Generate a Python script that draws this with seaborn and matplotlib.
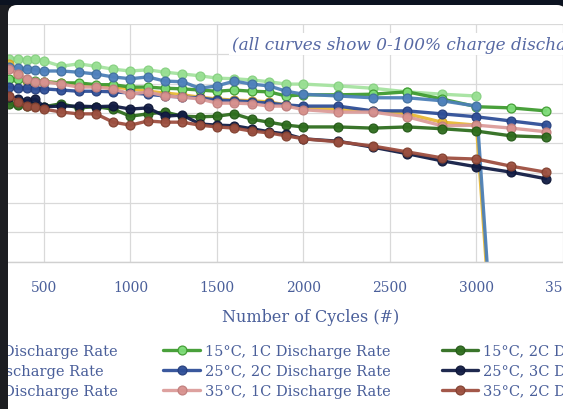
import matplotlib
matplotlib.use("Agg")
import matplotlib.pyplot as plt
import seaborn as sns
import pandas as pd
from matplotlib.patches import Rectangle, FancyBboxPatch
from matplotlib.transforms import Affine2D

# ---------------- data ----------------
cycles = [300, 350, 400, 450, 500, 600, 700, 800, 900, 1000, 1100, 1200, 1300, 1400,
          1500, 1600, 1700, 1800, 1900, 2000, 2200, 2400, 2600, 2800, 3000, 3200, 3400]

s15_05 = [94.1, 94.1, 94.0, 94.1, 93.8, 92.9, 93.3, 92.9, 92.4, 92.1, 92.3, 91.9, 91.6, 91.3,
          90.9, 90.8, 90.6, 90.3, 89.9, 89.9, 89.6, 89.2, 88.6, 88.2, 87.9]
s25_1 = [92.8, 92.6, 92.4, 92.3, 92.1, 92.1, 91.9, 91.6, 91.1, 90.8, 91.1, 90.4, 90.3, 89.2,
         89.6, 90.4, 89.9, 89.6, 88.7, 88.2, 87.9, 87.6, 87.6, 87.1, 86.2, 0.0]
s35_05 = [93.3, 91.6, 90.4, 90.3, 90.3, 90.1, 89.9, 89.6, 89.4, 89.1, 88.7, 88.4, 88.1, 87.7,
          87.4, 87.2, 87.1, 86.9, 86.4, 85.9, 85.7, 85.4, 84.9, 83.5, 83.0, 0.0]
s15_1 = [90.8, 90.8, 90.6, 90.4, 90.3, 90.1, 90.1, 89.8, 89.8, 89.4, 89.4, 89.2, 89.1, 88.9,
         88.7, 88.9, 88.7, 88.6, 87.9, 88.1, 88.1, 88.2, 88.6, 87.4, 86.1, 85.9, 85.4]
s25_2 = [89.4, 89.2, 89.2, 89.1, 89.1, 88.9, 88.7, 88.7, 88.6, 88.4, 88.2, 87.9, 87.7, 87.6,
         87.2, 87.1, 86.9, 86.7, 86.4, 86.2, 86.2, 85.4, 85.4, 84.9, 84.4, 83.7, 83.0]
s35_1 = [92.4, 91.6, 90.8, 90.3, 90.3, 89.9, 89.4, 89.4, 89.1, 88.2, 88.6, 87.9, 87.7, 87.4,
         86.7, 86.7, 86.6, 86.2, 86.2, 85.6, 85.2, 85.2, 84.4, 82.9, 83.0, 82.5, 81.9]
s15_2 = [86.6, 86.4, 86.2, 86.2, 86.1, 86.6, 85.9, 86.1, 85.7, 84.5, 84.9, 85.2, 84.5, 84.4,
         84.5, 84.9, 84.0, 83.5, 83.0, 82.7, 82.7, 82.5, 82.7, 82.4, 82.0, 81.2, 81.0]
s25_3 = [87.7, 87.4, 87.1, 87.4, 86.1, 86.2, 86.2, 86.1, 86.2, 85.7, 85.9, 84.5, 84.7, 83.2,
         83.0, 82.9, 82.4, 81.9, 81.5, 80.7, 80.3, 79.3, 78.2, 77.0, 76.0, 75.1, 74.0]
s35_2 = [87.9, 86.9, 86.2, 86.1, 85.7, 85.2, 84.9, 84.9, 83.5, 83.0, 83.7, 83.5, 83.5, 83.0,
         82.7, 82.5, 82.0, 81.7, 81.2, 80.7, 80.2, 79.5, 78.5, 77.5, 77.3, 76.1, 75.1]

labels = ["15\u00b0C, 0.5C Discharge Rate", "25\u00b0C, 1C Discharge Rate",
          "35\u00b0C, 0.5C Discharge Rate",
          "15\u00b0C, 1C Discharge Rate", "25\u00b0C, 2C Discharge Rate",
          "35\u00b0C, 1C Discharge Rate",
          "15\u00b0C, 2C Discharge Rate", "25\u00b0C, 3C Discharge Rate",
          "35\u00b0C, 2C Discharge Rate"]
series_values = [s15_05, s25_1, s35_05, s15_1, s25_2, s35_1, s15_2, s25_3, s35_2]

x_ticks = [500, 1000, 1500, 2000, 2500, 3000, 3500]
x_label = "Number of Cycles (#)"
title_text = "(all curves show 0-100% charge discharge)"

# ---------------- style ----------------
# (line color, marker face, marker edge)
styles = [
    ("#a6e3a0", "#98df92", "#86d080"),   # 15C 0.5C
    ("#4d80b8", "#4f81bd", "#41709f"),   # 25C 1C
    ("#e8b935", "#e8b935", "#d2a42a"),   # 35C 0.5C
    ("#3f9b30", "#7ddc78", "#3f9b30"),   # 15C 1C
    ("#2f4f98", "#2f4f98", "#263f7d"),   # 25C 2C
    ("#dc9c9a", "#d8928f", "#c07e7c"),   # 35C 1C
    ("#2f6e1f", "#2f6e1f", "#255a18"),   # 15C 2C
    ("#131d45", "#131d45", "#0e1636"),   # 25C 3C
    ("#9e4f40", "#9c5040", "#82402f"),   # 35C 2C
]
draw_order = [0, 2, 3, 1, 4, 5, 6, 7, 8]

sns.set_style("white")
plt.rcParams["font.family"] = ["DejaVu Serif"]
TXT = "#4a5f9a"

W, H = 563, 410
fig = plt.figure(figsize=(W / 100, H / 100), dpi=100)
fig.patch.set_facecolor("#16181d")
px = Affine2D().scale(1 / W, -1 / H).translate(0, 1) + fig.transFigure

card = FancyBboxPatch((8, 6), 558, 430, boxstyle="round,pad=0,rounding_size=9",
                      transform=px, facecolor="white", edgecolor="none", zorder=-5)
fig.add_artist(card)

ax = fig.add_axes([8 / W, (H - 263) / H, 555 / W, 238 / H])
ax.set_facecolor("none")

handles = {}
for i in draw_order:
    vals = series_values[i]
    df = pd.DataFrame({"cycles": cycles[:len(vals)], "value": vals})
    lc, mf, me = styles[i]
    sns.lineplot(data=df, x="cycles", y="value", ax=ax, color=lc, lw=2.4,
                 marker="o", markersize=6.4, markerfacecolor=mf, markeredgecolor=me,
                 markeredgewidth=0.9, label=labels[i], legend=False, alpha=0.95)
    handles[i] = ax.lines[-1]

ax.set_xlim(292.2, 3410)
ax.set_ylim(60, 100)
ax.set_yticks(range(60, 101, 5))
ax.set_xticks(x_ticks)
ax.set_xticklabels([str(t) for t in x_ticks])
ax.grid(True, color="#d9d9d9", lw=0.9)
ax.set_axisbelow(True)
for s in ["top", "left", "right"]:
    ax.spines[s].set_visible(False)
ax.spines["bottom"].set_color("#d0d0d0")
ax.spines["bottom"].set_linewidth(1.0)
ax.tick_params(axis="y", length=0, labelleft=False)
ax.tick_params(axis="x", length=0, pad=13, labelsize=10, labelcolor=TXT)
ax.set_xlabel(x_label, fontsize=11.5, color=TXT, va="center")
ax.set_ylabel("")
ax.xaxis.set_label_coords((311 - 8) / 555, (263 - 318) / 238)

ax.text((232 - 8) / 555, (263 - 45) / 238, title_text, transform=ax.transAxes,
        fontsize=12.2, style="italic", color="#5668a3", ha="left", va="center",
        bbox=dict(facecolor="white", edgecolor="none", pad=2), zorder=10)

leg_kw = dict(loc="upper left", bbox_to_anchor=(0, 1), frameon=False, fontsize=10.5,
              labelcolor=TXT, handlelength=2.5, handletextpad=0.35,
              columnspacing=3.5, labelspacing=0.42, borderpad=0, borderaxespad=0)
# first (left) legend column, cut by the screenshot edge
leg1 = fig.legend([handles[i] for i in range(3)], labels[:3], ncol=1, **leg_kw)
# remaining two columns
leg2 = fig.legend([handles[i] for i in range(3, 9)], labels[3:], ncol=2, **leg_kw)

fig.canvas.draw()
r = fig.canvas.get_renderer()


def place(leg, idx, target_x, use_right, target_yc):
    for _ in range(2):
        t = leg.get_texts()[idx].get_window_extent(r)
        dx = target_x - (t.x1 if use_right else t.x0)
        dy = (H - target_yc) - (t.y0 + t.y1) / 2
        e = leg.get_window_extent(r)
        leg.set_bbox_to_anchor(((e.x0 + dx) / W, (e.y1 + dy) / H),
                               transform=fig.transFigure)
        fig.canvas.draw()


place(leg2, 0, 205, False, 352)
place(leg1, 0, 118, True, 352)

# screenshot framing
fig.add_artist(Rectangle((0, 0), 8, H, transform=px, facecolor="#1d1e22",
                         edgecolor="none", zorder=50))
fig.add_artist(Rectangle((0, 0), W, 6, transform=px, facecolor="#0c1321",
                         edgecolor="none", zorder=50))

fig.savefig("out.png", dpi=100, facecolor=fig.get_facecolor())
